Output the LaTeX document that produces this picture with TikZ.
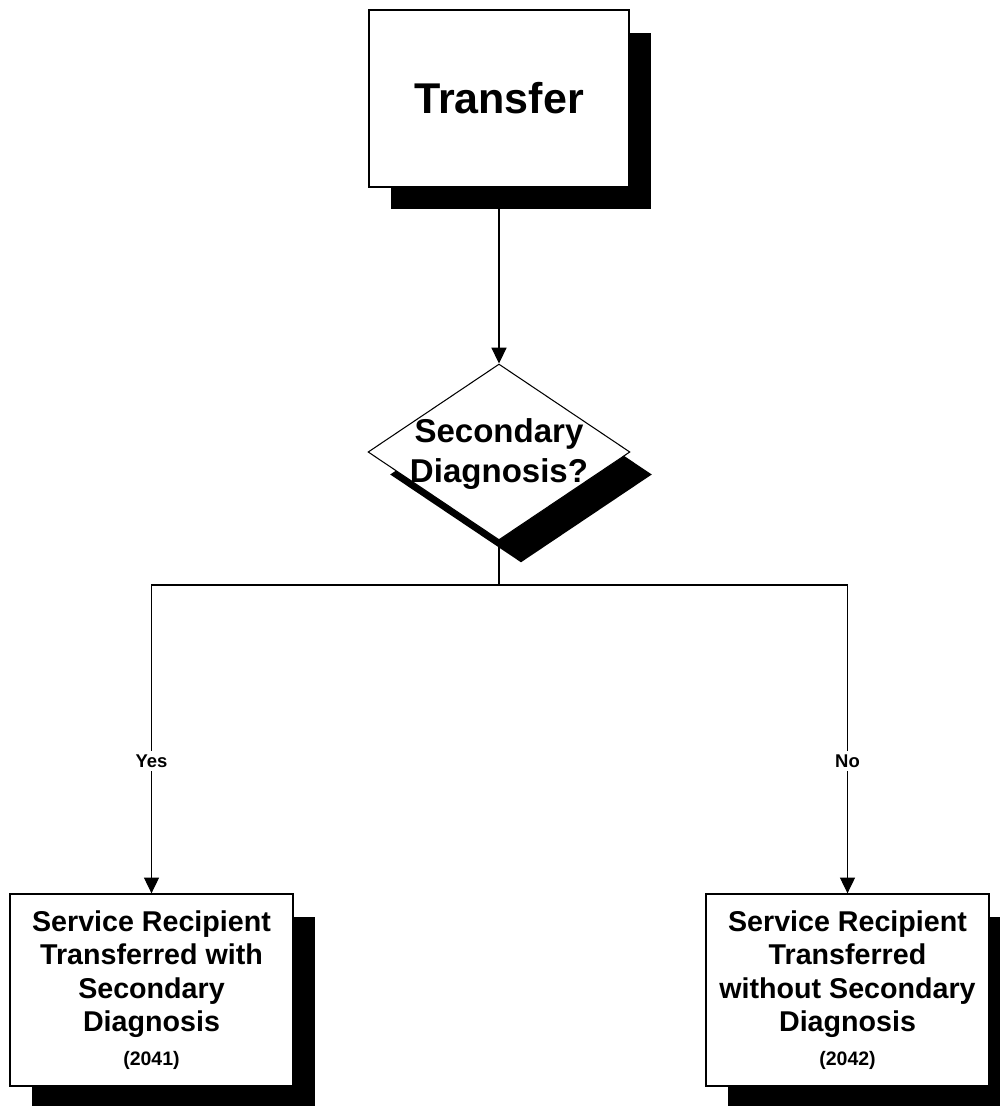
\documentclass[tikz,border=0pt]{standalone}
\usepackage{fontspec}
\setmainfont{Liberation Sans}
\usepackage{tikz}
\usetikzlibrary{arrows.meta,positioning,shapes.geometric,shadows}
\tikzset{
  shade/.style    = {drop shadow={fill=black,opacity=1,
                      shadow xshift=4.4mm,shadow yshift=-4.5mm}},
  blk/.style      = {draw,line width=0.8pt,fill=white,align=center,
                     inner sep=0pt,shade},
  startblk/.style = {blk,minimum width=5.2cm,minimum height=3.54cm,
                     font=\bfseries\fontsize{24.5}{29}\selectfont},
  endblk/.style   = {blk,minimum width=5.66cm,minimum height=3.84cm,
                     font=\bfseries\fontsize{16.3}{19.1}\selectfont},
  decision/.style = {diamond,draw,line width=0.6pt,fill=white,inner sep=0pt,
                     minimum width=5.24cm,minimum height=3.52cm,shade},
  qtext/.style    = {align=center,inner sep=0pt,
                     font=\bfseries\fontsize{18.8}{22.4}\selectfont},
  sig/.style      = {-{Triangle[length=9pt,width=8.6pt]},line width=0.6pt},
  lbl/.style      = {fill=white,inner sep=2pt,
                     font=\bfseries\fontsize{10.5}{12}\selectfont},
}
\newcommand{\codenum}[1]{{\fontsize{11.1}{13}\selectfont #1}}

\begin{document}
\begin{tikzpicture}[x=0.02cm,y=-0.02cm]
  \useasboundingbox (0,0) rectangle (1000,1106);
  % process boxes and the decision
  \node[startblk] (transfer) at (499,98.5) {Transfer};
  \node[decision] (secdiag) at (499,452) {};
  \node[qtext] (secdiagtxt) at (499,454) {Secondary\\Diagnosis?};
  \node[endblk] (withsec) at (151.5,990)
    {Service Recipient\\Transferred with\\Secondary\\Diagnosis\\\codenum{(2041)}};
  \node[endblk] (nosec) at (847.5,990)
    {Service Recipient\\Transferred\\without Secondary\\Diagnosis\\\codenum{(2042)}};
  \coordinate (split) at (499,585);

  % connectors
  \draw[sig] (transfer.south) -- (secdiag.north);
  \draw[line width=0.6pt] (secdiag.south) -- (split);
  \draw[sig] (split) -| node[lbl,pos=0.785] {Yes} (withsec.north);
  \draw[sig] (split) -| node[lbl,pos=0.785] {No} (nosec.north);
\end{tikzpicture}
\end{document}
